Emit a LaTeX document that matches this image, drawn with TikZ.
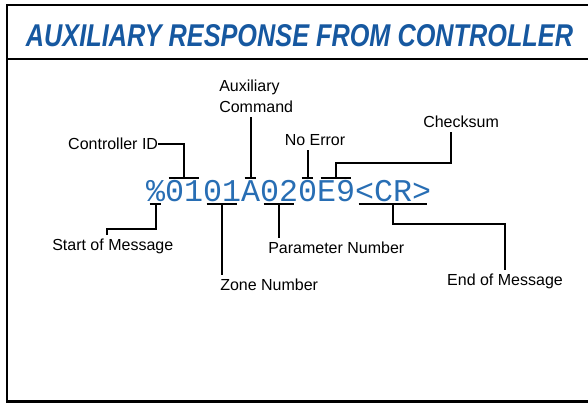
\documentclass[tikz,border=0pt]{standalone}
\usepackage{fontspec}
\usepackage{graphicx}
\setmainfont{Liberation Sans}
\newfontfamily\msgfont{Liberation Mono}
\definecolor{titleblue}{RGB}{22,88,160}
\definecolor{msgblue}{RGB}{40,110,180}
\tikzset{
  lbl/.style={inner sep=3pt, font=\fontsize{12}{16}\selectfont},
  msgchar/.style={inner sep=0pt, minimum width=14.25pt, text height=17.25pt, text depth=2pt, anchor=base, text=msgblue, font=\msgfont\fontsize{23.75}{24}\selectfont},
  bar/.style={line width=1.5pt},
  callout/.style={line width=1.5pt},
}

\begin{document}
\begin{tikzpicture}[x=0.75pt,y=0.75pt,yscale=-1,xscale=1]
\useasboundingbox (0,0) rectangle (588,403);

%Shape: Frame
\draw [line width=1.6pt] (588,5) -- (7,5) -- (7,401.5) -- (588,401.5) ;
%Straight Lines
\draw [line width=1.5pt] (7,59.5) -- (588,59.5) ;

% Text Node
\node (title) at (299.5,47) [anchor=base, inner sep=0pt, text=titleblue] {\resizebox{410.25pt}{16.5pt}{\bfseries\itshape AUXILIARY RESPONSE FROM CONTROLLER}};

% Message characters
\foreach \ch [count=\i from 0] in {\%,0,1,0,1,A,0,2,0,E,9,<,C,R,>}
  \node (c\i) at (155.5+19*\i,201) [msgchar] {\ch};

% Text Node
\node (cid) at (158.3,144) [lbl, anchor=east, inner xsep=0pt] {Controller ID};
\node (aux) at (215,117) [lbl, anchor=south west, align=left] {Auxiliary\\Command};
\node (noerr) at (315,150) [lbl, anchor=south] {No Error};
\node (cks) at (419,132) [lbl, anchor=south west] {Checksum};
\node (som) at (48,235) [lbl, anchor=north west] {Start of Message};
\node (zone) at (216,275) [lbl, anchor=north west] {Zone Number};
\node (par) at (264,238) [lbl, anchor=north west] {Parameter Number};
\node (eom) at (505,270) [lbl, anchor=north] {End of Message};

%Straight Lines: over bars
\draw [bar] ([xshift=3pt]c1.north west) -- ([xshift=-3pt]c2.north east) ;
\draw [bar] ([xshift=3pt]c5.north west) -- ([xshift=-3pt]c5.north east) ;
\draw [bar] ([xshift=3pt]c8.north west) -- ([xshift=-3pt]c8.north east) ;
\draw [bar] ([xshift=3pt]c9.north west) -- ([xshift=-3pt]c10.north east) ;
%Straight Lines: under bars
\draw [bar] ([xshift=3pt]c0.south west) -- ([xshift=-3pt]c0.south east) ;
\draw [bar] ([xshift=3pt]c3.south west) -- ([xshift=-3pt]c4.south east) ;
\draw [bar] ([xshift=3pt]c6.south west) -- ([xshift=-3pt]c7.south east) ;
\draw [bar] ([xshift=3pt]c11.south west) -- ([xshift=-3pt]c14.south east) ;

%Straight Lines: callouts
\coordinate (cksturn) at (451,163);
\coordinate (somturn) at (107,229);
\coordinate (eomturn) at (505,224);
\draw [callout] (c1.north east) |- (cid.east) ;
\draw [callout] (c5.north) -- (c5.north |- aux.south) ;
\draw [callout] (c8.north) -- (c8.north |- noerr.south) ;
\draw [callout] (c9.north east) |- (cksturn) -- (cksturn |- cks.south) ;
\draw [callout] (c0.south) |- (somturn) -- (somturn |- som.north) ;
\draw [callout] (c3.south east) -- (c3.south east |- zone.north) ;
\draw [callout] (c6.south east) -- (c6.south east |- par.north) ;
\draw [callout] (c12.south east) |- (eomturn) -- (eom.north) ;

\end{tikzpicture}
\end{document}
